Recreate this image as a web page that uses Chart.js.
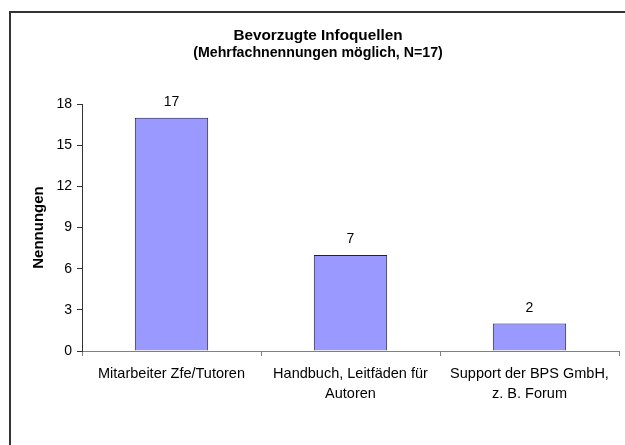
<!DOCTYPE html>
<html>
<head>
<meta charset="utf-8">
<script src="https://cdn.jsdelivr.net/npm/chart.js@4.4.1/dist/chart.umd.min.js"></script>
<style>
  html, body { margin: 0; padding: 0; background: #fff; overflow: hidden; }
  #frame {
    position: absolute; left: 9px; top: 11px; width: 700px; height: 500px;
    border-left: 2px solid #333; border-top: 2px solid #333;
  }
  #chart { position: absolute; left: 0; top: 0; }
</style>
</head>
<body>
<div id="frame"></div>
<canvas id="chart" width="660" height="445"></canvas>
<script>
// Chart data
const categories = [
    ["Mitarbeiter Zfe/Tutoren"],
    ["Handbuch, Leitfäden für", "Autoren"],
    ["Support der BPS GmbH,", "z. B. Forum"]
]
const mentions = [17, 7, 2] // Nennungen per source
const yMin = 0
const yMax = 18
const yStep = 3

const fontFamily = "'Liberation Sans', Arial, sans-serif"
Chart.defaults.color = '#000'
Chart.defaults.font.family = fontFamily

// Writes the value above each bar (like Excel's data labels)
const barValueLabels = {
    id: 'barValueLabels',
    afterDatasetsDraw(chart) {
        const ctx = chart.ctx
        const meta = chart.getDatasetMeta(0)
        ctx.save()
        ctx.font = "14px " + fontFamily
        ctx.fillStyle = '#000'
        ctx.textAlign = 'center'
        ctx.textBaseline = 'alphabetic'
        meta.data.forEach((bar, i) => {
            ctx.fillText(String(mentions[i]), bar.x, bar.y - 12)
        })
        ctx.restore()
    }
}

const config = {
    type: 'bar',
    data: {
        labels: categories,
        datasets: [{
            label: 'Nennungen',
            data: mentions,
            backgroundColor: '#9999FF',
            borderColor: '#222',
            borderWidth: 1,
            categoryPercentage: 1,
            barPercentage: 0.41
        }]
    },
    options: {
        responsive: false,
        animation: false,
        layout: {
            // the Excel frame is wider than the window, so the title centre sits left of the plot centre
            padding: { left: 17, right: 41, top: 11, bottom: 0 }
        },
        scales: {
            x: {
                grid: {
                    display: true,
                    drawOnChartArea: false,
                    drawTicks: true,
                    tickLength: 5,
                    color: '#808080'
                },
                border: { color: '#808080', width: 1 },
                ticks: {
                    font: { size: 14.5, lineHeight: 1.38 },
                    padding: 8,
                    maxRotation: 0
                },
                afterFit(scale) { scale.height = 94 }
            },
            y: {
                min: yMin,
                max: yMax,
                ticks: {
                    stepSize: yStep,
                    font: { size: 14 },
                    padding: 5
                },
                grid: {
                    display: true,
                    drawOnChartArea: false,
                    drawTicks: true,
                    tickLength: 5,
                    color: '#333'
                },
                border: { color: '#333', width: 1 },
                title: {
                    display: true,
                    text: 'Nennungen',
                    font: { size: 15, weight: 'bold' },
                    padding: { top: 13, bottom: 0 }
                },
                afterFit(scale) { scale.width = 65 }
            }
        },
        plugins: {
            legend: { display: false },
            tooltip: { enabled: false },
            title: {
                display: true,
                text: 'Bevorzugte Infoquellen',
                font: { size: 15.3, weight: 'bold' },
                padding: { top: 15.3, bottom: 0 }
            },
            subtitle: {
                display: true,
                text: '(Mehrfachnennungen möglich, N=17)',
                font: { size: 14.2, weight: 'bold' },
                color: '#000',
                padding: { top: 0, bottom: 42.3 }
            }
        }
    },
    plugins: [barValueLabels]
}

const chart = new Chart(document.getElementById('chart'), config)
</script>
</body>
</html>
